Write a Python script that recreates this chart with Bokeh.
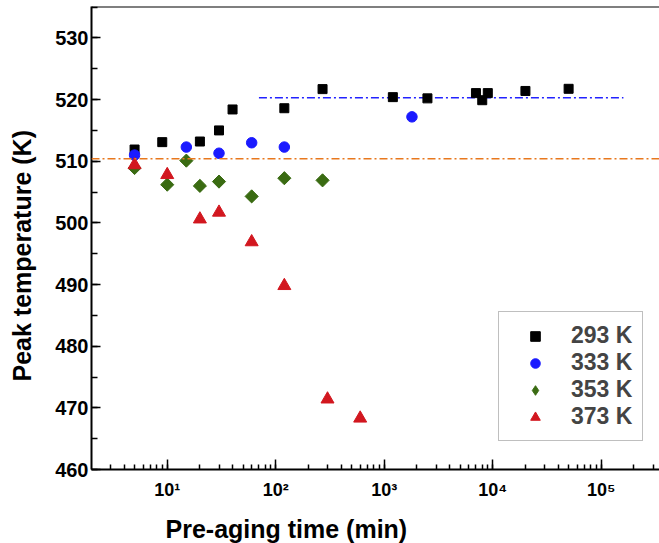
from bokeh.plotting import figure
from bokeh.models import (Range1d, SingleIntervalTicker, LogTicker, Legend, LegendItem,
                          Span, Label, CustomJSTickFormatter)
from bokeh.embed import file_html
from bokeh.resources import INLINE
import numpy as np

# ---- data ----
t293 = [5, 9, 20, 30, 40, 120, 270, 1200, 2500, 7000, 8000, 9000, 20000, 50000]
T293 = [511.9, 513.1, 513.2, 515.0, 518.4, 518.6, 521.7, 520.4, 520.2, 521.05, 519.9, 521.05, 521.4, 521.75]

t333 = [5, 15, 30, 60, 120, 1800]
T333 = [511.0, 512.3, 511.3, 513.0, 512.3, 517.2]

t353 = [5, 10, 15, 20, 30, 60, 120, 270]
T353 = [508.9, 506.2, 510.1, 506.0, 506.7, 504.3, 507.25, 506.9]

t373 = [5, 10, 20, 30, 60, 120, 300, 600]
T373 = [509.4, 507.8, 500.6, 501.7, 496.9, 489.8, 471.4, 468.3]

orange_level = 510.4
blue_level = 520.3
blue_t = [70, 160000]

series_labels = ["293 K", "333 K", "353 K", "373 K"]
x_label = "Pre-aging time (min)"
y_label = "Peak temperature (K)"

FONT = "Liberation Sans"
Y_TOP = 535.1

p = figure(width=659, height=543, x_axis_type="log",
           x_range=Range1d(2.005, 344000), y_range=Range1d(460, Y_TOP),
           output_backend="svg", toolbar_location=None,
           min_border_left=91, min_border_right=0, min_border_top=6, min_border_bottom=74)
p.outline_line_color = None
p.grid.visible = False
p.background_fill_color = "white"

# axes styling
xa = p.xaxis[0]
ya = p.yaxis[0]
for ax in (xa, ya):
    ax.axis_line_width = 2
    ax.axis_line_color = "black"
    ax.major_tick_line_width = 1.5
    ax.minor_tick_line_width = 1.5
    ax.major_tick_out = 0
    ax.minor_tick_out = 0
    ax.major_label_text_font = FONT
    ax.major_label_text_font_style = "bold"
    ax.major_label_text_color = "black"

xa.major_tick_in = 10
xa.minor_tick_in = 5
xa.major_label_text_font_size = "18px"
xa.major_label_standoff = 10
xa.ticker = LogTicker(num_minor_ticks=10, desired_num_ticks=6)
xa.formatter = CustomJSTickFormatter(code="""
const e = Math.round(Math.log10(tick));
const sup = {"0":"\u2070","1":"\u00b9","2":"\u00b2","3":"\u00b3","4":"\u2074","5":"\u2075","6":"\u2076","7":"\u2077","8":"\u2078","9":"\u2079","-":"\u207b"};
return "10" + String(e).split("").map(c => sup[c]).join("");
""")

ya.ticker = SingleIntervalTicker(interval=10, num_minor_ticks=2)
ya.major_tick_in = 9
ya.minor_tick_in = 6
ya.major_label_text_font_size = "20px"
ya.major_label_standoff = 3

# top border line of the frame
p.add_layout(Span(location=Y_TOP, dimension="width", line_color="black", line_width=2))

# axis titles, placed in the side panels
p.add_layout(Label(x=74, y=2, x_units="screen", y_units="screen", text=x_label,
                   text_font=FONT, text_font_style="bold", text_font_size="25px",
                   text_align="left", text_baseline="alphabetic", text_color="black"), "below")
p.add_layout(Label(x=-3, y=88, x_units="screen", y_units="screen", text=y_label, angle=np.pi / 2,
                   text_font=FONT, text_font_style="bold", text_font_size="25px",
                   text_align="left", text_baseline="alphabetic", text_color="black"), "left")

# reference lines
p.add_layout(Span(location=orange_level, dimension="width", line_color="#E8781E",
                  line_width=1.6, line_dash="8 3 2 3"))
p.line(blue_t, [blue_level, blue_level], line_color="#2222FF", line_width=1.6, line_dash="8 3 2 3")

# markers
r1 = p.scatter(t293, T293, marker="square", size=9, color="black")
r2 = p.scatter(t333, T333, marker="circle", size=10.5, color="#1a1aff")
# diamond glyph (hidden under the rotated squares) used for the legend entry
r3_leg = p.scatter(t353, T353, marker="diamond", size=11, color="#3a6b12")
r3 = p.scatter(t353, T353, marker="square", size=9.3, angle=np.pi / 4, color="#3a6b12")
r4 = p.scatter(t373, T373, marker="triangle", size=13, color="#d2171f")

legend = Legend(items=[LegendItem(label=series_labels[0], renderers=[r1]),
                       LegendItem(label=series_labels[1], renderers=[r2]),
                       LegendItem(label=series_labels[2], renderers=[r3_leg]),
                       LegendItem(label=series_labels[3], renderers=[r4])],
                location=(407, 28), margin=0, padding=10, spacing=0,
                glyph_width=52, glyph_height=24, label_height=24, label_standoff=10,
                label_text_font=FONT, label_text_font_style="bold", label_text_font_size="23px",
                border_line_color="#808080", border_line_width=1.2, background_fill_alpha=1)
p.add_layout(legend, "center")

open("out.html", "w").write(file_html(p, INLINE))
